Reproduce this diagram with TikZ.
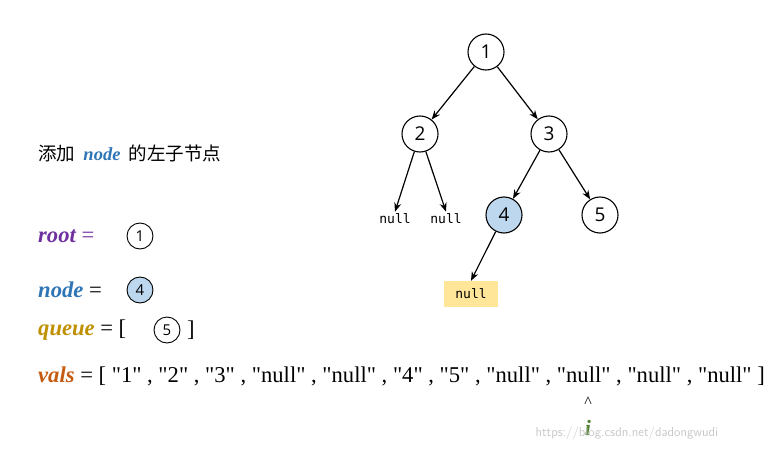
\documentclass[tikz,border=0pt]{standalone}
\usepackage{fontspec}
\setmainfont{Liberation Serif}
\newfontfamily\cjk{Noto Sans CJK SC}
\newfontfamily\osans{Open Sans}
\newfontfamily\dmono{DejaVu Sans Mono}
\usetikzlibrary{arrows.meta}
\definecolor{nblue}{HTML}{2E75B6}
\definecolor{rpurple}{HTML}{7030A0}
\definecolor{qgold}{HTML}{BF9000}
\definecolor{vorange}{HTML}{C55A11}
\definecolor{igreen}{HTML}{548235}
\definecolor{fillblue}{HTML}{BDD7EE}
\definecolor{fillyel}{HTML}{FFE699}
\newcommand\myvar[2]{{\color{#1}\bfseries\itshape #2}}
\newcommand\qq[1]{\textquotedbl#1\textquotedbl}
\begin{document}
\begin{tikzpicture}[x=1pt,y=-1pt,
  tnode/.style={circle,draw,line width=1.1pt,minimum size=36pt,inner sep=0pt,font=\osans\fontsize{19}{19}\selectfont},
  snode/.style={circle,draw,line width=0.9pt,minimum size=26pt,inner sep=0pt,font=\osans\fontsize{15}{15}\selectfont},
  nulltxt/.style={font=\dmono\fontsize{13}{13}\selectfont,inner sep=2pt},
  edge/.style={line width=1.2pt,-{Stealth[length=9pt,width=7pt]}},
  lbl/.style={anchor=west,inner sep=0pt,font=\fontsize{22.6}{22.6}\selectfont}]
\useasboundingbox (0,0) rectangle (774,452);
\node[tnode] (n1) at (486,52) {1};
\node[tnode] (n2) at (420,134) {2};
\node[tnode] (n3) at (549,134) {3};
\node[tnode,fill=fillblue] (n4) at (504,215) {4};
\node[tnode] (n5) at (600,215) {5};
\node[nulltxt] (na) at (395,219) {null};
\node[nulltxt] (nb) at (446,219) {null};
\node[nulltxt,fill=fillyel,minimum width=54pt,minimum height=26pt] (nc) at (471,294) {null};
\draw[edge] (n1) -- (n2);
\draw[edge] (n1) -- (n3);
\draw[edge] (n2) -- (na.north);
\draw[edge] (n2) -- (nb.north);
\draw[edge] (n3) -- (n4);
\draw[edge] (n3) -- (n5);
\draw[edge] (n4) -- (nc.north);
\node[lbl,font=\cjk\fontsize{18.5}{18.5}\selectfont] (t0) at (38,153) {添加\ \ {\rmfamily\myvar{nblue}{node}}\ \ 的左子节点};
\node[lbl] (t1) at (38,236) {\myvar{rpurple}{root} {\color{rpurple}=}};
\node[snode] (c1) at (140,236) {1};
\node[lbl] (t2) at (38,290) {\myvar{nblue}{node} =};
\node[snode,fill=fillblue] (c4) at (140,290) {4};
\node[lbl] (t3) at (38,330) {\myvar{qgold}{queue} = [};
\node[snode] (c5) at (167,330) {5};
\node[lbl] (t3b) at (187,330) {]};
\node[lbl] (t4) at (38,376) {\myvar{vorange}{vals} = [ \qq{1} , \qq{2} , \qq{3} , \qq{null} , \qq{null} , \qq{4} , \qq{5} , \qq{null} , \qq{null} , \qq{null} , \qq{null} ]};
\node[font=\fontsize{16}{16}\selectfont] (car) at (588,402) {\textasciicircum};
\node[font=\bfseries\itshape\fontsize{22}{22}\selectfont,text=igreen] (iv) at (588,428) {i};
\node[anchor=west,font=\sffamily\fontsize{13}{13}\selectfont,text=black!22] (wm) at (532,433) {https://blog.csdn.net/dadongwudi};
\end{tikzpicture}
\end{document}
